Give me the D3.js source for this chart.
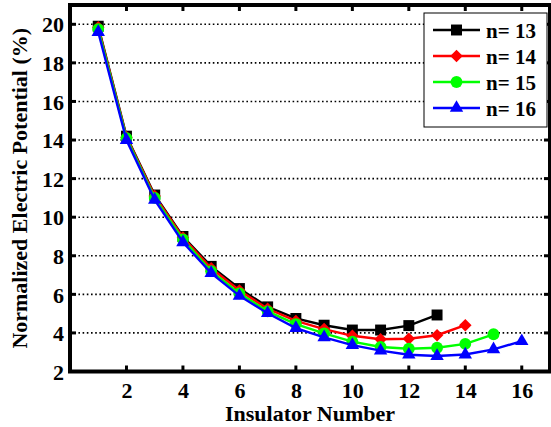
<!DOCTYPE html>
<html>
<head>
<meta charset="utf-8">
<script src="https://cdn.jsdelivr.net/npm/d3@7"></script>
<style>
  html, body { margin: 0; padding: 0; background: #fff; }
  svg { display: block; }
</style>
</head>
<body>
<svg id="chart" width="551" height="427"></svg>
<script>
// ---- data ----
const seriesNames = ["n= 13", "n= 14", "n= 15", "n= 16"];
const seriesColors = ["#000000", "#ff0000", "#00ff00", "#0000ff"];
const seriesMarkers = ["square", "diamond", "circle", "triangle"];
const n13 = [19.9, 14.2, 11.15, 9.0, 7.45, 6.3, 5.35, 4.75, 4.4, 4.15, 4.15, 4.38, 4.93];
const n14 = [19.85, 14.15, 11.1, 8.95, 7.35, 6.2, 5.25, 4.62, 4.2, 3.85, 3.67, 3.7, 3.88, 4.4];
const n15 = [19.75, 14.1, 11.0, 8.85, 7.2, 6.05, 5.12, 4.46, 3.98, 3.55, 3.27, 3.18, 3.23, 3.43, 3.93];
const n16 = [19.6, 14.0, 10.9, 8.7, 7.1, 5.92, 5.02, 4.25, 3.77, 3.37, 3.08, 2.87, 2.8, 2.88, 3.15, 3.57];
const seriesValues = [n13, n14, n15, n16];
const xTicks = [2, 4, 6, 8, 10, 12, 14, 16];
const yTicks = [2, 4, 6, 8, 10, 12, 14, 16, 18, 20];
const xTitle = "Insulator Number";
const yTitle = "Normalized Electric Potential (%)";

const FONT = "Liberation Serif";

// ---- layout ----
const svg = d3.select("#chart");
const L = 70, R = 550, T = 5, B = 371.5;
const x = d3.scaleLinear().domain([0, 17]).range([L, R]);
const y = d3.scaleLinear().domain([2, 21]).range([B, T]);

// gridlines (horizontal, dotted)
svg.append("g").selectAll("line")
  .data(yTicks.filter(d => d > 2))
  .join("line")
  .attr("x1", L).attr("x2", R)
  .attr("y1", d => y(d)).attr("y2", d => y(d))
  .attr("stroke", "#000").attr("stroke-width", 1.6)
  .attr("stroke-dasharray", "1.6,2.6");

// axes: labels via d3 axes
const fs = 22;
const xAxis = svg.append("g").attr("transform", `translate(0,${B})`)
  .call(d3.axisBottom(x).tickValues(xTicks).tickSize(0).tickPadding(0).tickFormat(d3.format("d")))
  .attr("font-family", FONT).attr("font-size", fs).attr("font-weight", "bold");
xAxis.select(".domain").remove();
xAxis.selectAll("text").attr("y", 26).attr("dy", 0).attr("fill", "#000");

const yAxis = svg.append("g").attr("transform", `translate(${L},0)`)
  .call(d3.axisLeft(y).tickValues(yTicks).tickSize(0).tickPadding(0).tickFormat(d3.format("d")))
  .attr("font-family", FONT).attr("font-size", fs).attr("font-weight", "bold");
yAxis.select(".domain").remove();
yAxis.selectAll("text").attr("x", -6).attr("dy", "0.35em").attr("fill", "#000");

// inward tick marks (bottom, top, right, left)
const tk = 6;
const ticks = svg.append("g").attr("stroke", "#000").attr("stroke-width", 3);
xTicks.forEach(d => {
  ticks.append("line").attr("x1", x(d)).attr("x2", x(d)).attr("y1", B).attr("y2", B - tk);
  ticks.append("line").attr("x1", x(d)).attr("x2", x(d)).attr("y1", T).attr("y2", T + tk);
});
yTicks.forEach(d => {
  ticks.append("line").attr("x1", R).attr("x2", R - tk).attr("y1", y(d)).attr("y2", y(d));
  ticks.append("line").attr("x1", L).attr("x2", L + tk).attr("y1", y(d)).attr("y2", y(d));
});

// series
const symbolFor = m => ({
  square: d3.symbol().type(d3.symbolSquare).size(120),
  diamond: d3.symbol().type(d3.symbolDiamond2).size(100),
  circle: d3.symbol().type(d3.symbolCircle).size(110),
  triangle: d3.symbol().type(d3.symbolTriangle).size(78)
})[m];

const line = d3.line().x((d, i) => x(i + 1)).y(d => y(d));
seriesValues.forEach((vals, s) => {
  const g = svg.append("g");
  g.append("path").datum(vals).attr("d", line)
    .attr("fill", "none").attr("stroke", seriesColors[s]).attr("stroke-width", 2.4);
  g.selectAll("path.m").data(vals).join("path").attr("class", "m")
    .attr("transform", (d, i) => `translate(${x(i + 1)},${y(d)})`)
    .attr("d", symbolFor(seriesMarkers[s])())
    .attr("fill", seriesColors[s]);
});

// border
svg.append("rect").attr("x", L).attr("y", T).attr("width", R - L).attr("height", B - T)
  .attr("fill", "none").attr("stroke", "#000").attr("stroke-width", 4);

// titles
const tstyle = sel => sel.attr("font-family", FONT).attr("font-weight", "bold").attr("fill", "#000");
svg.append("text").attr("x", (L + R) / 2).attr("y", 421).attr("text-anchor", "middle")
  .attr("font-size", fs).call(tstyle).text(xTitle);
svg.append("text").attr("transform", `translate(27,${(T + B) / 2}) rotate(-90)`)
  .attr("text-anchor", "middle").attr("font-size", fs).call(tstyle).text(yTitle);

// legend
const lg = svg.append("g");
lg.append("rect").attr("x", 424).attr("y", 13).attr("width", 123).attr("height", 114)
  .attr("fill", "#fff").attr("stroke", "#000").attr("stroke-width", 1);
seriesNames.forEach((name, s) => {
  const ly = 30 + s * 26;
  lg.append("line").attr("x1", 433).attr("x2", 480).attr("y1", ly).attr("y2", ly)
    .attr("stroke", seriesColors[s]).attr("stroke-width", 2.4);
  lg.append("path").attr("transform", `translate(456.5,${ly})`)
    .attr("d", symbolFor(seriesMarkers[s])()).attr("fill", seriesColors[s]);
  lg.append("text").attr("x", 486).attr("y", ly + 7.5).attr("font-size", 21).call(tstyle).text(name);
});
</script>
</body>
</html>
